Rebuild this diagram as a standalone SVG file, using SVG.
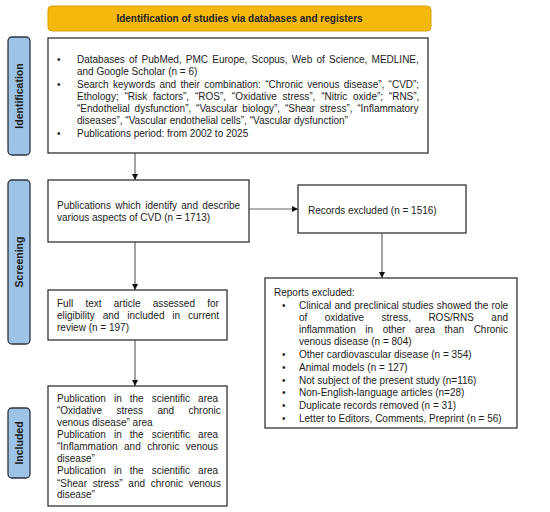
<svg xmlns="http://www.w3.org/2000/svg" width="550" height="512" viewBox="0 0 550 512">
<defs>
<style>
text{font-family:"Liberation Sans",Arial,sans-serif;font-size:10px;fill:#222}
.b{font-weight:bold}
.side{fill:#9DC3E6;stroke:#2b3440;stroke-width:1.3}
.box{fill:#fff;stroke:#333;stroke-width:1.3}
.lbl{font-weight:bold;font-size:10.5px;fill:#1a1a1a;text-anchor:middle}
.conn line{stroke:#666;stroke-width:1.2;fill:none}
</style>
<marker id="ah" markerWidth="6" markerHeight="6" refX="6" refY="3" orient="auto" markerUnits="userSpaceOnUse">
<path d="M0,0 L6,3 L0,6 Z" fill="#111"/>
</marker>
</defs>
<rect width="550" height="512" fill="#fff"/>

<g id="header">
<rect x="48" y="6" width="383" height="25" rx="4" fill="#F5B80C" stroke="#D9A000" stroke-width="1"/>
<text class="b" x="239.5" y="22" text-anchor="middle">Identification of studies via databases and registers</text>
</g>

<g id="side-identification">
<rect class="side" x="8" y="37" width="22" height="118" rx="4"/>
<text class="lbl" transform="translate(23,96) rotate(-90)">Identification</text>
</g>
<g id="side-screening">
<rect class="side" x="8" y="180" width="22" height="164" rx="4"/>
<text class="lbl" transform="translate(23,262) rotate(-90)">Screening</text>
</g>
<g id="side-included">
<rect class="side" x="8" y="408" width="22" height="70" rx="4"/>
<text class="lbl" transform="translate(23,443) rotate(-90)">Included</text>
</g>

<g class="conn" id="connectors">
<line x1="135" y1="153" x2="135" y2="180" marker-end="url(#ah)"/>
<line x1="249" y1="209" x2="298" y2="209" marker-end="url(#ah)"/>
<line x1="382" y1="233" x2="382" y2="278" marker-end="url(#ah)"/>
<line x1="135" y1="242" x2="135" y2="290" marker-end="url(#ah)"/>
<line x1="135" y1="340" x2="135" y2="386" marker-end="url(#ah)"/>
</g>

<g id="identification">
<rect class="box" x="48" y="38" width="380" height="115"/>
<text x="57" y="63">•</text>
<text x="77" y="63" word-spacing="1.44">Databases of PubMed, PMC Europe, Scopus, Web of Science, MEDLINE,</text>
<text x="77" y="75">and Google Scholar (n = 6)</text>
<text x="57" y="88">•</text>
<text x="77" y="88" word-spacing="1.5">Search keywords and their combination: “Chronic venous disease”, “CVD”;</text>
<text x="77" y="100" word-spacing="3.0">Ethology; “Risk factors”, “ROS”, “Oxidative stress”, “Nitric oxide”; “RNS”,</text>
<text x="77" y="112" word-spacing="2.0">“Endothelial dysfunction”, “Vascular biology”, “Shear stress”, “Inflammatory</text>
<text x="77" y="124">diseases”, “Vascular endothelial cells”, “Vascular dysfunction”</text>
<text x="57" y="137">•</text>
<text x="77" y="137">Publications period: from 2002 to 2025</text>
</g>

<g id="publications">
<rect class="box" x="48" y="180" width="201" height="62"/>
<text x="57" y="208.5" word-spacing="1.6">Publications which identify and describe</text>
<text x="57" y="220.5">various aspects of CVD (n = 1713)</text>
</g>

<g id="records-excluded">
<rect class="box" x="298" y="185" width="168" height="48"/>
<text x="308" y="213.5">Records excluded (n = 1516)</text>
</g>

<g id="full-text">
<rect class="box" x="48" y="290" width="179" height="50"/>
<text x="57" y="307" word-spacing="9.5">Full text article assessed for</text>
<text x="57" y="319" word-spacing="5.1">eligibility and included in current</text>
<text x="57" y="331">review (n = 197)</text>
</g>

<g id="reports-excluded">
<rect class="box" x="265" y="278" width="252" height="150"/>
<text x="274" y="295.5">Reports excluded:</text>
<text x="282" y="308.5">•</text>
<text x="299" y="308.5" word-spacing="0.4">Clinical and preclinical studies showed the role</text>
<text x="299" y="320.5" word-spacing="14.6">of oxidative stress, ROS/RNS and</text>
<text x="299" y="332.5" word-spacing="6.8">inflammation in other area than Chronic</text>
<text x="299" y="345">venous disease (n = 804)</text>
<text x="282" y="357.5">•</text>
<text x="299" y="357.5">Other cardiovascular disease (n = 354)</text>
<text x="282" y="370.5">•</text>
<text x="299" y="370.5">Animal models (n = 127)</text>
<text x="282" y="383.5">•</text>
<text x="299" y="383.5">Not subject of the present study (n=116)</text>
<text x="282" y="395.5">•</text>
<text x="299" y="395.5">Non-English-language articles (n=28)</text>
<text x="282" y="408.5">•</text>
<text x="299" y="408.5">Duplicate records removed (n = 31)</text>
<text x="282" y="421.5">•</text>
<text x="299" y="421.5">Letter to Editors, Comments, Preprint (n = 56)</text>
</g>

<g id="included">
<rect class="box" x="48" y="386" width="179" height="120"/>
<text x="57" y="401.5" word-spacing="5.25">Publication in the scientific area</text>
<text x="57" y="414" word-spacing="11.6">“Oxidative stress and chronic</text>
<text x="57" y="425.5">venous disease” area</text>
<text x="57" y="438" word-spacing="5.25">Publication in the scientific area</text>
<text x="57" y="450" word-spacing="3.67">“Inflammation and chronic venous</text>
<text x="57" y="461.5">disease”</text>
<text x="57" y="474" word-spacing="5.25">Publication in the scientific area</text>
<text x="57" y="486.5" word-spacing="2.9">“Shear stress” and chronic venous</text>
<text x="57" y="498">disease”</text>
</g>
</svg>
